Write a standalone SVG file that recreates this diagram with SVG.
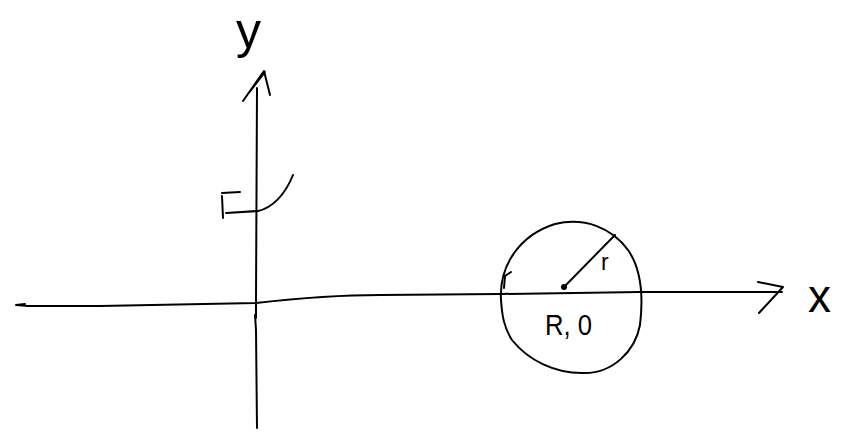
<svg xmlns="http://www.w3.org/2000/svg" width="841" height="435" viewBox="0 0 841 435">
<style>
.s{fill:none;stroke:#000;stroke-width:2;stroke-linecap:round;stroke-linejoin:round}
.t{font-family:"Liberation Sans",Arial,sans-serif;fill:#000}
</style>
<rect width="841" height="435" fill="#fff"/>
<g id="connectors">
<g id="y-axis">
<path class="s" d="M255,315 L256,330 L257,428 M256,318 L256,300 L257,88"/>
<path class="s" d="M243,101 L264,71 L270,95 M248,94 L265,72"/>
</g>
<g id="x-axis">
<path class="s" d="M25,304 L16,305 L28,306 L100,306 L256,303 C300,298 340,295 380,295 L500,294 L640,292 L782,292"/>
<path class="s" d="M758,282 L783,287 L759,313"/>
</g>
</g>
<g id="label-y"><text class="t" x="236" y="48" font-size="50">y</text></g>
<g id="label-x"><text class="t" x="808" y="312" font-size="46">x</text></g>
<g id="rotation">
<path class="s" d="M293,175 C285,195 272,208 258,211 L226,213"/>
<path class="s" d="M222,196 L223,218 M222,193 L240,192"/>
</g>
<g id="circle">
<path class="s" d="M501,300 C499,265 520,235 555,224 C585,217 612,228 628,250 C642,270 643,300 640,325 C635,352 612,373 585,373 C555,374 528,360 512,340 C504,328 502,315 501,300 Z"/>
<circle cx="564" cy="287" r="3" fill="#000"/>
<path class="s" d="M564,287 L615,235"/>
<path class="s" d="M504,288 L505,276 L511,272"/>
<text class="t" x="601" y="270" font-size="23">r</text>
<text class="t" x="545" y="335" font-size="29" textLength="47" lengthAdjust="spacingAndGlyphs">R, 0</text>
</g>
</svg>
